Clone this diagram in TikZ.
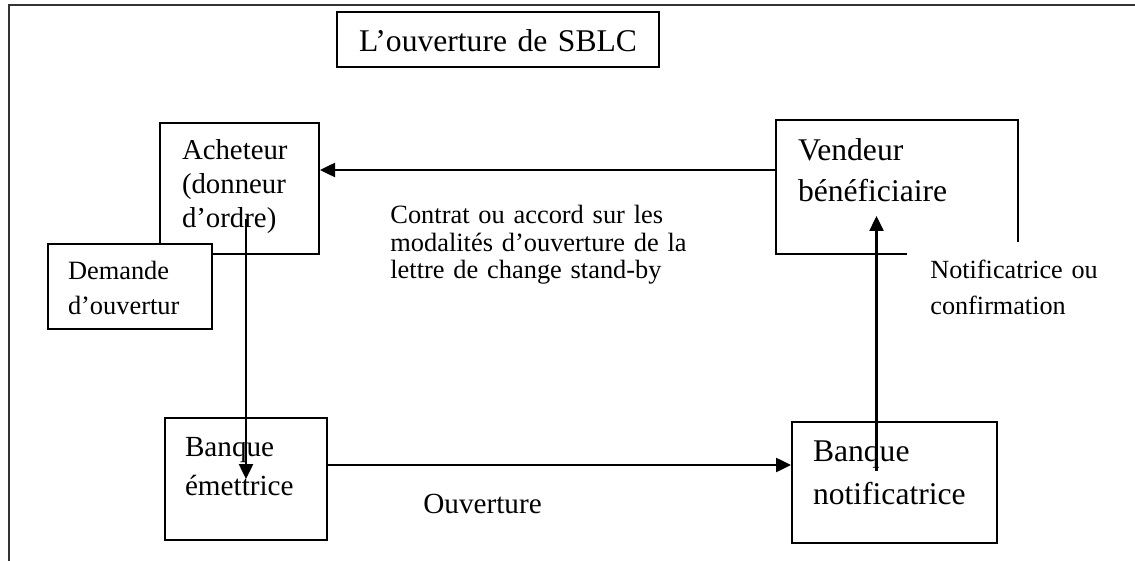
\documentclass[tikz,border=0pt]{standalone}
\usepackage{fontspec}
\setmainfont{Liberation Serif}
\usetikzlibrary{arrows.meta}

\tikzset{
  boite/.style={draw, line width=1pt, inner sep=0pt, align=left},
  fleche/.style={line width=1.25pt, -{Triangle[length=7.5pt,width=7pt]}},
  etiq/.style={inner sep=0pt, align=left},
  petit/.style={font=\fontsize{13.2}{17.5}\selectfont},
  moyen/.style={font=\fontsize{14.6}{18}\selectfont},
  grand/.style={font=\fontsize{15.8}{20.5}\selectfont}
}

\begin{document}
\begin{tikzpicture}[x=0.5pt,y=-0.5pt]
            \useasboundingbox (0,0) rectangle (1135,561);
            % cadre
            \draw[line width=0.9pt, black!80] (9,561) -- (9,5) -- (1135,5);

            \node[boite, grand, align=center, minimum width=161pt, text width=161pt,
                  text height=20pt, text depth=7.5pt] (titre) at (498,39.5) {L’ouverture de SBLC};

            \node[boite, moyen, font=\fontsize{14.4}{17}\selectfont, minimum width=79.5pt, text width=57.5pt,
                  text height=18.5pt, text depth=47pt] (ach) at (239.5,188.5) {Acheteur\\(donneur\\d’ordre)};
            \node[boite, petit, fill=white, minimum width=82pt, text width=62pt,
                  text height=17.5pt, text depth=25pt] (dem) at (130,286.5) {Demande\\d’ouvertur};

            \node[boite, grand, minimum width=121pt, text width=99pt,
                  text height=20.5pt, text depth=46.5pt] (vend) at (897,187) {Vendeur\\bénéficiaire};
            \node[etiq, petit, font=\fontsize{13.1}{18}\selectfont, fill=white, anchor=north west,
                  inner xsep=11.5pt, text width=86pt, text height=18pt, text depth=26pt]
                  (confirm) at (907,242) {Notificatrice ou\\confirmation};

            \node[boite, moyen, font=\fontsize{14.6}{19.5}\selectfont, minimum width=81pt, text width=61pt,
                  text height=19pt, text depth=42pt] (em) at (246,479) {Banque\\émettrice};
            \node[boite, grand, font=\fontsize{15.8}{21.5}\selectfont, minimum width=102.5pt, text width=81.5pt,
                  text height=19.5pt, text depth=41pt] (notif) at (894.5,482.5) {Banque\\notificatrice};

            \node[etiq, font=\fontsize{13.2}{13.75}\selectfont, text width=160pt, anchor=base west]
                  (contrat) at (390,224) {Contrat ou accord sur les\\modalités d’ouverture de la\\lettre de change stand-by};
            \node[etiq, moyen, anchor=base west] (ouv) at (423,513) {Ouverture};

            % fleches
            \draw[fleche] (vend.west) ++(0,-17) coordinate (c1) -- (c1 -| ach.east);
            \draw[fleche] (em.center |- ach.south) ++(0,-36) -- (em.center);
            \draw[fleche] (em.east) ++(0,-14) coordinate (c3) -- (c3 -| notif.west);
            \path (notif.center) ++(-18,-12) coordinate (c4);
            \path (c4 |- vend.center) ++(0,29) coordinate (c5);
            \draw[fleche] (c4) -- (c5);
\end{tikzpicture}
\end{document}
